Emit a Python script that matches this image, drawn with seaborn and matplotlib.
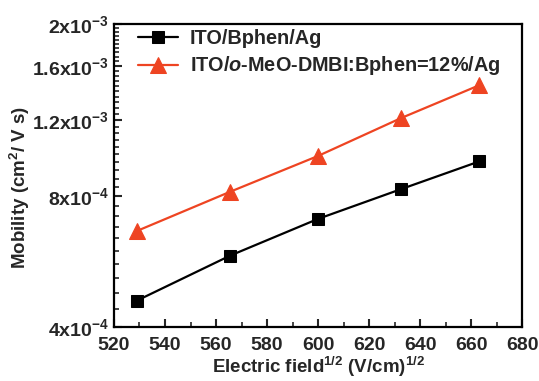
import numpy as np
import pandas as pd
import seaborn as sns
import matplotlib
matplotlib.use("Agg")
import matplotlib.pyplot as plt
from matplotlib.ticker import FixedLocator, FixedFormatter, MultipleLocator

sns.set_style("ticks")
plt.rcParams['font.family'] = ['Liberation Sans', 'DejaVu Sans']
plt.rcParams['font.weight'] = 'bold'
plt.rcParams['mathtext.fontset'] = 'custom'
plt.rcParams['mathtext.rm'] = 'Liberation Sans:bold'
plt.rcParams['mathtext.bf'] = 'Liberation Sans:bold'
plt.rcParams['mathtext.it'] = 'Liberation Sans:italic:bold'
plt.rcParams['mathtext.default'] = 'rm'

# Data
field = [529, 565.5, 600, 632.4, 663.3]
mob_bphen = [4.6e-4, 5.84e-4, 7.1e-4, 8.31e-4, 9.64e-4]
mob_doped = [6.66e-4, 8.2e-4, 9.92e-4, 1.212e-3, 1.445e-3]
series_names = ["ITO/Bphen/Ag", r"ITO/$\mathit{o}$-MeO-DMBI:Bphen=12%/Ag"]
ytick_vals = [4e-4, 8e-4, 1.2e-3, 1.6e-3, 2e-3]
ytick_labels = [r"4x10$^{-4}$", r"8x10$^{-4}$", r"1.2x10$^{-3}$", r"1.6x10$^{-3}$", r"2x10$^{-3}$"]
xticks = [520, 540, 560, 580, 600, 620, 640, 660, 680]

df = pd.DataFrame({
    "field": field * 2,
    "mobility": mob_bphen + mob_doped,
    "sample": [series_names[0]] * len(field) + [series_names[1]] * len(field),
})

fig = plt.figure(figsize=(5.39, 3.81), dpi=100)
ax = fig.add_axes([0.2115, 0.142, 0.757, 0.795])

colors = ["black", "#EE4422"]
markers = ["s", "^"]
msizes = [8.5, 11]
for name, c, m, ms in zip(series_names, colors, markers, msizes):
    sub = df[df["sample"] == name]
    sns.lineplot(data=sub, x="field", y="mobility", ax=ax, color=c, marker=m,
                 markersize=ms, markeredgecolor=c, linewidth=1.6, label=name)

ax.set_yscale("log")
ax.set_xlim(520, 680)
ax.set_ylim(4e-4, 2e-3)

ax.yaxis.set_major_locator(FixedLocator(ytick_vals))
ax.yaxis.set_major_formatter(FixedFormatter(ytick_labels))
minor_y = np.arange(4e-4, 2.0001e-3, 0.4e-4)
ax.yaxis.set_minor_locator(FixedLocator(minor_y))
ax.yaxis.set_minor_formatter(FixedFormatter([""] * len(minor_y)))

ax.xaxis.set_major_locator(FixedLocator(xticks))
ax.xaxis.set_minor_locator(MultipleLocator(10))

ax.tick_params(axis="both", which="major", direction="in", length=6, width=1.5,
               labelsize=14, top=False, right=False)
ax.tick_params(axis="x", which="major", pad=7)
ax.tick_params(axis="both", which="minor", direction="in", length=3.5, width=1.2,
               top=False, right=False)
for lab in ax.get_xticklabels() + ax.get_yticklabels():
    lab.set_fontweight("bold")

for sp in ax.spines.values():
    sp.set_linewidth(1.6)
    sp.set_visible(True)
    sp.set_color("black")

ax.set_xlabel(r"Electric field$^{1/2}$ (V/cm)$^{1/2}$", fontsize=13.5, fontweight="bold", labelpad=1)
ax.set_ylabel(r"Mobility (cm$^{2}$/ V s)", fontsize=13.5, fontweight="bold")
ax.yaxis.set_label_coords(-0.2, 0.462)

leg = ax.legend(loc="upper left", bbox_to_anchor=(0.059, 0.985), frameon=False,
                fontsize=14.3, handlelength=2.0, borderaxespad=0, borderpad=0,
                labelspacing=0.35, handletextpad=0.6)
for t in leg.get_texts():
    t.set_fontweight("bold")

fig.savefig("out.png", dpi=100)
